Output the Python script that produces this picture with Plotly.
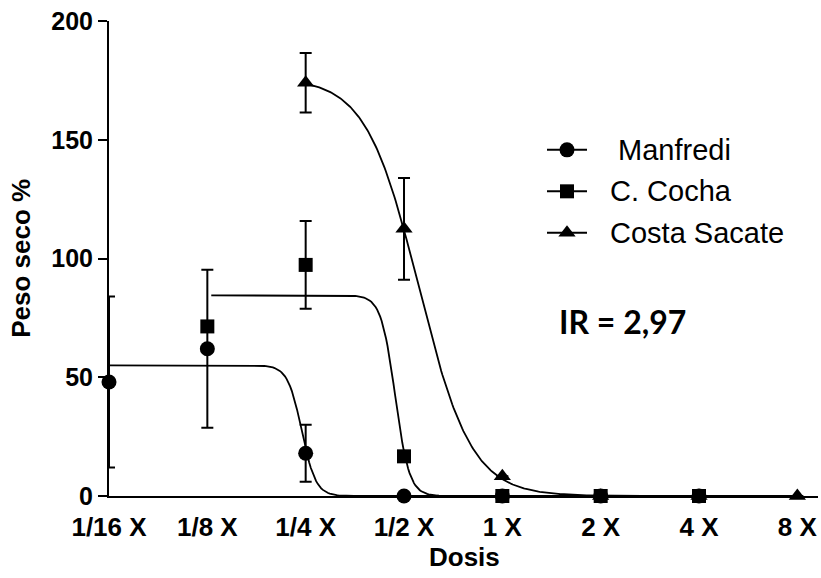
import numpy as np
import plotly.graph_objects as go

# categories (log2-spaced doses)
doses = ["1/16 X", "1/8 X", "1/4 X", "1/2 X", "1 X", "2 X", "4 X", "8 X"]

# observed means and errors (index into doses)
manfredi_idx = [0, 1, 2, 3, 4, 5, 6]
manfredi_val = [48, 62, 18, 0, 0, 0, 0]
manfredi_err = [36, 33.3, 12, 0, 0, 0, 0]

cocha_idx = [1, 2, 3, 4, 5, 6]
cocha_val = [71.4, 97.3, 16.7, 0, 0, 0]
cocha_err = [0, 18.5, 2, 0, 0, 0]

costa_idx = [2, 3, 4, 5, 6, 7]
costa_val = [174, 112.5, 8.3, 0, 0, 0]
costa_err = [12.5, 21.4, 0, 0, 0, 0]

# fitted log-logistic curve parameters (x in log2-dose index units)
curve_top = [55, 84.5, 176]
curve_mid = [1.96, 2.91, 3.15]
curve_slope = [14, 14, 3.73]
curve_start = [0, 1.04, 2]
curve_end = [7, 7, 7]

series_names = ["\u00a0Manfredi", "C. Cocha", "Costa Sacate"]
symbols = ["circle", "square", "triangle-up"]
msizes = [15, 14, 15]

# plot-area geometry (pixels)
W, H = 821, 578
L, R, T, B = 109, 818, 21, 496.5


def px_x(p):
    return (p - L) / (R - L)


def px_y(p):
    return (B - p) / (B - T)


fig = go.Figure()

# fitted curves
for i in range(3):
    xs = np.linspace(curve_start[i], curve_end[i], 400)
    ys = curve_top[i] / (1 + np.exp(curve_slope[i] * (xs - curve_mid[i])))
    fig.add_trace(go.Scatter(x=xs, y=ys, mode="lines",
                             line=dict(color="black", width=1.8),
                             showlegend=False, hoverinfo="skip",
                             cliponaxis=False))

data = [(manfredi_idx, manfredi_val, manfredi_err),
        (cocha_idx, cocha_val, cocha_err),
        (costa_idx, costa_val, costa_err)]

for i, (xi, yv, ev) in enumerate(data):
    fig.add_trace(go.Scatter(
        x=xi, y=yv, mode="markers",
        marker=dict(symbol=symbols[i], size=msizes[i], color="black"),
        error_y=dict(type="data", array=ev, visible=True, color="black",
                     thickness=2, width=6),
        showlegend=False, cliponaxis=False))

# manual legend
leg_rows = [150, 191.5, 233]
leg_line = (547, 587)
leg_text_x = 608
shapes = []
annotations = []
for i in range(3):
    yy = px_y(leg_rows[i])
    shapes.append(dict(type="line", xref="paper", yref="paper",
                       x0=px_x(leg_line[0]), x1=px_x(leg_line[1]),
                       y0=yy, y1=yy, line=dict(color="black", width=2)))
    fig.add_trace(go.Scatter(
        x=[px_x((leg_line[0] + leg_line[1]) / 2)], y=[yy],
        xaxis="x2", yaxis="y2", mode="markers",
        marker=dict(symbol=symbols[i], size=msizes[i], color="black"),
        showlegend=False, hoverinfo="skip", cliponaxis=False))
    annotations.append(dict(text=series_names[i], xref="paper", yref="paper",
                            x=px_x(leg_text_x), y=yy, xanchor="left",
                            yanchor="middle", showarrow=False,
                            font=dict(size=29, family="Liberation Sans",
                                      color="black")))

annotations += [
    dict(text="<b>Peso seco %</b>", xref="paper", yref="paper",
         x=px_x(21), y=px_y(259), xanchor="center", yanchor="middle",
         textangle=-90, showarrow=False,
         font=dict(size=26, family="Liberation Sans", color="black")),
    dict(text="<b>Dosis</b>", xref="paper", yref="paper",
         x=px_x(464), y=px_y(558), xanchor="center", yanchor="middle",
         showarrow=False,
         font=dict(size=26, family="Liberation Sans", color="black")),
    dict(text="<b>IR = 2,97</b>", xref="paper", yref="paper",
         x=px_x(622), y=px_y(322), xanchor="center", yanchor="middle",
         showarrow=False,
         font=dict(size=32, family="Lato", color="black")),
]

fig.update_layout(
    width=W, height=H,
    margin=dict(l=L, r=W - R, t=T, b=H - B),
    paper_bgcolor="white", plot_bgcolor="white",
    showlegend=False,
    font=dict(family="Liberation Sans", color="black"),
    xaxis=dict(range=[0, 7.21], tickmode="array",
               tickvals=list(range(len(doses))), ticktext=doses,
               showgrid=False, zeroline=False, showline=True,
               linecolor="black", linewidth=2, ticks="",
               ticklabelstandoff=7,
               tickfont=dict(size=26, family="Liberation Sans", weight="bold",
                             color="black")),
    yaxis=dict(range=[0, 200], tickvals=[0, 50, 100, 150, 200],
               showgrid=False, zeroline=False, showline=True,
               linecolor="black", linewidth=2, ticks="outside",
               ticklen=9, tickwidth=2, tickcolor="black",
               tickfont=dict(size=25, family="Liberation Sans", weight="bold",
                             color="black")),
    xaxis2=dict(overlaying="x", range=[0, 1], visible=False, fixedrange=True),
    yaxis2=dict(overlaying="y", range=[0, 1], visible=False, fixedrange=True),
    shapes=shapes,
    annotations=annotations,
)

fig.write_html("out.html")
